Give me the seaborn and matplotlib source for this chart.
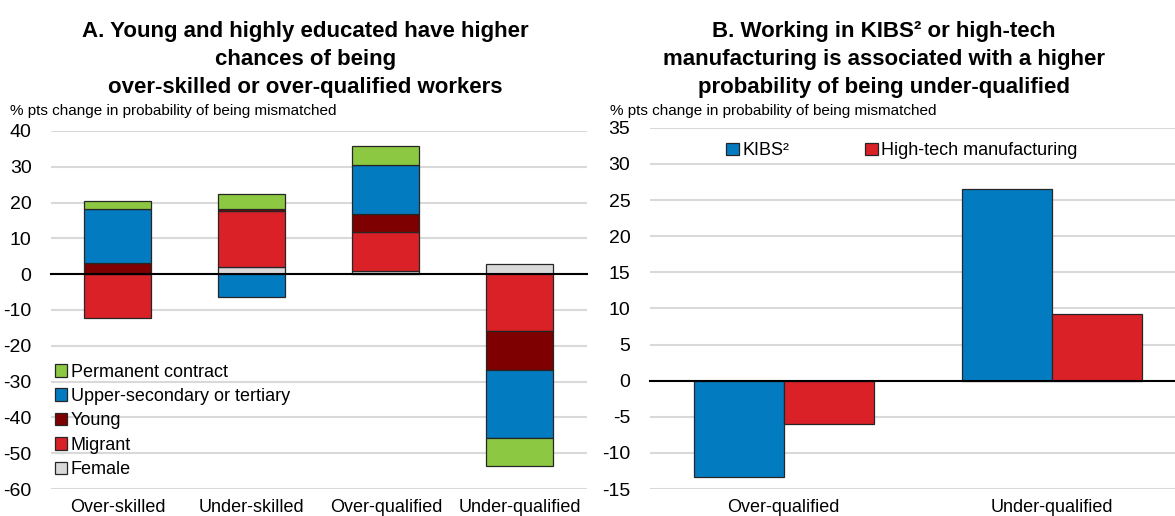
import matplotlib.pyplot as plt
import numpy as np
import pandas as pd
import seaborn as sns

sns.set_style("white", {"text.color": "black", "xtick.color": "black",
                        "ytick.color": "black", "axes.labelcolor": "black"})
plt.rcParams["font.family"] = ["Liberation Sans", "DejaVu Sans"]
plt.rcParams["axes.unicode_minus"] = False

# Panel A: stacked contributions by type of mismatch
mismatch = ["Over-skilled", "Under-skilled", "Over-qualified", "Under-qualified"]
female = [0.0, 1.9, 0.9, 2.7]
migrant = [-12.3, 15.8, 11.0, -16.0]
young = [3.0, 0.6, 5.0, -10.9]
upper_sec = [15.3, -6.3, 13.6, -18.9]
permanent = [2.0, 4.2, 5.3, -7.7]

# Panel B: sector effects
qual = ["Over-qualified", "Under-qualified"]
sectors = ["KIBS²", "High-tech manufacturing"]
kibs = [-13.3, 26.5]
high_tech = [-6.0, 9.2]

ylabel = "% pts change in probability of being mismatched"
edge = "#262626"

fig = plt.figure(figsize=(11.75, 5.16), dpi=100)
ax1 = fig.add_axes([0.0434, 0.0523, 0.456, 0.694])
ax2 = fig.add_axes([0.553, 0.0523, 0.447, 0.700])


def style_axis(ax, cats, ylim, step):
    ax.set_ylim(ylim)
    ax.set_yticks(np.arange(ylim[0], ylim[1] + 0.1, step))
    ax.yaxis.grid(True, color="#D9D9D9", linewidth=1.5)
    ax.set_axisbelow(True)
    for s in ax.spines.values():
        s.set_visible(False)
    ax.spines["bottom"].set_visible(True)
    ax.spines["bottom"].set_position(("data", 0))
    ax.spines["bottom"].set_linewidth(1.5)
    ax.spines["bottom"].set_color("black")
    ax.spines["bottom"].set_zorder(5)
    n = len(cats)
    ax.set_xticks(np.arange(-0.5, n, 1))
    ax.set_xticklabels([])
    ax.tick_params(axis="x", direction="in", length=5, width=1.2, color="black")
    ax.tick_params(axis="y", length=0, pad=14, labelsize=14)
    ax.set_xlabel("")
    ax.set_ylabel("")
    sec = ax.secondary_xaxis("bottom")
    sec.set_xticks(range(n))
    sec.set_xticklabels(cats)
    sec.tick_params(length=0, labelsize=13, pad=7)
    sec.spines["bottom"].set_visible(False)


# Panel A
series = [
    ("Female", female, "#D9D9D9"),
    ("Migrant", migrant, "#DA2128"),
    ("Young", young, "#7F0000"),
    ("Upper-secondary or tertiary", upper_sec, "#037BC1"),
    ("Permanent contract", permanent, "#8CC841"),
]
pos = np.zeros(len(mismatch))
neg = np.zeros(len(mismatch))
for name, vals, col in series:
    v = np.array(vals)
    bottom = np.where(v >= 0, pos, neg)
    sns.barplot(x=mismatch, y=v, bottom=bottom, color=col, saturation=1,
                width=0.5, edgecolor=edge, linewidth=0.9, errorbar=None,
                label=name, ax=ax1)
    pos += np.clip(v, 0, None)
    neg += np.clip(v, None, 0)

style_axis(ax1, mismatch, (-60, 40), 10)
h, l = ax1.get_legend_handles_labels()
ax1.legend(h[::-1], l[::-1], loc="lower left", bbox_to_anchor=(0.0, 0.02),
           frameon=False, fontsize=13, handlelength=0.7, handleheight=0.7,
           handletextpad=0.2, labelspacing=0.41, borderaxespad=0, borderpad=0.2)

# Panel B
df_b = pd.DataFrame({
    "qual": qual * 2,
    "sector": [sectors[0]] * 2 + [sectors[1]] * 2,
    "value": kibs + high_tech,
})
sns.barplot(data=df_b, x="qual", y="value", hue="sector",
            palette=["#037BC1", "#DA2128"], saturation=1, width=0.67,
            edgecolor=edge, linewidth=0.9, errorbar=None, ax=ax2)
style_axis(ax2, qual, (-15, 35), 5)
ax2.set_xlim(-0.5, 1.46)
ax2.legend(loc="center left", bbox_to_anchor=(0.145, 0.936), ncol=2, frameon=False,
           fontsize=13, handlelength=0.7, handleheight=0.7, handletextpad=0.2,
           columnspacing=4.2, borderaxespad=0, borderpad=0)

# Titles and axis notes
fig.text(0.26, 1 - 21 / 516, "A. Young and highly educated have higher\nchances of being\nover-skilled or over-qualified workers",
         ha="center", va="top", fontsize=16, fontweight="bold", linespacing=1.45)
fig.text(0.752, 1 - 21 / 516, "B. Working in KIBS² or high-tech\nmanufacturing is associated with a higher\nprobability of being under-qualified",
         ha="center", va="top", fontsize=16, fontweight="bold", linespacing=1.45)
fig.text(10 / 1175, 1 - 111 / 516, ylabel, ha="left", va="center", fontsize=11)
fig.text(610 / 1175, 1 - 111 / 516, ylabel, ha="left", va="center", fontsize=11)

fig.savefig("out.png", dpi=100)
